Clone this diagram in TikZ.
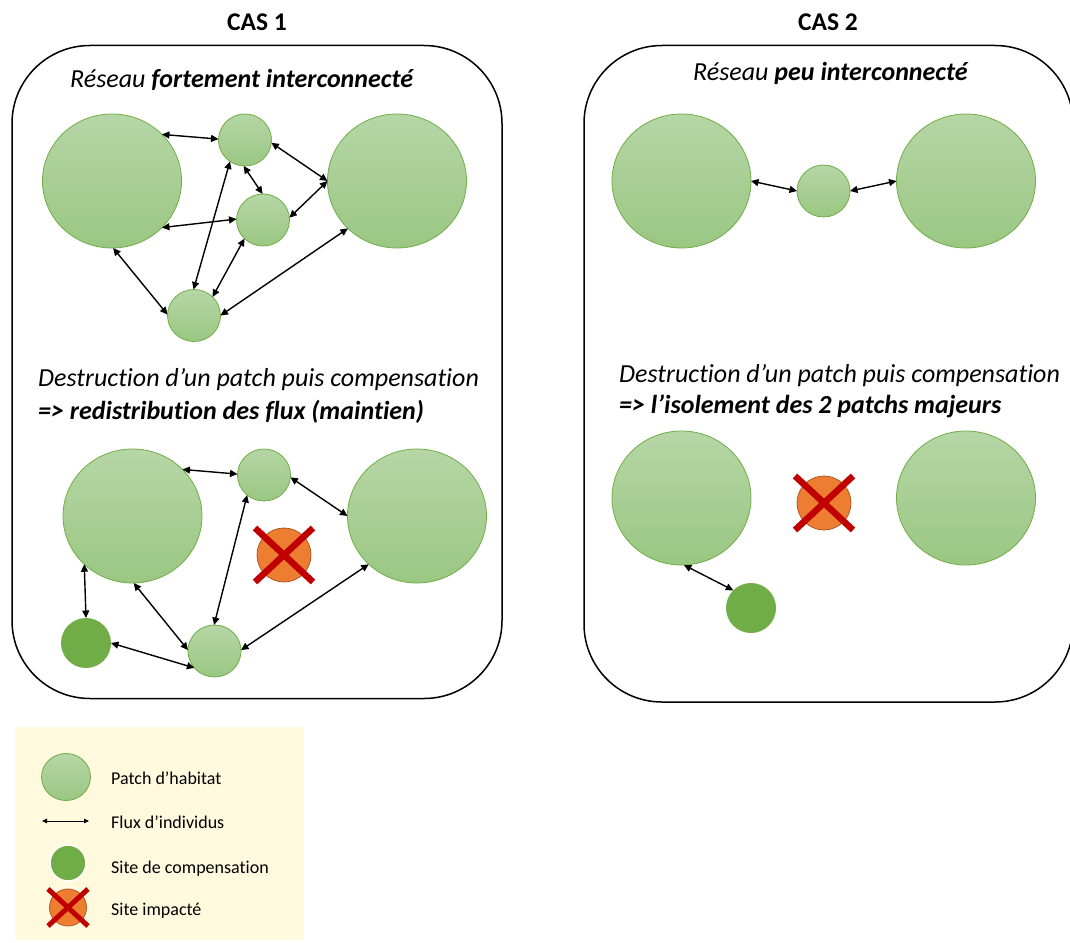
\documentclass[tikz,border=0pt]{standalone}
\usepackage{fontspec}
\setmainfont{Carlito}[Ligatures=NoCommon]
\usetikzlibrary{arrows.meta,shapes.geometric}
\definecolor{pgtop}{RGB}{182,214,166}
\definecolor{pgbot}{RGB}{154,199,130}
\definecolor{pedge}{RGB}{112,173,71}
\definecolor{compgreen}{RGB}{112,173,71}
\definecolor{orng}{RGB}{237,125,49}
\definecolor{orngedge}{RGB}{174,90,33}
\definecolor{xred}{RGB}{192,0,0}
\definecolor{legbg}{RGB}{255,249,222}
\tikzset{
  patch/.style={ellipse, inner sep=0pt, outer sep=0pt, draw=pedge, line width=0.8pt, top color=pgtop, bottom color=pgbot},
  bigpatch/.style={patch, minimum width=139pt, minimum height=134pt},
  smallpatch/.style={patch, minimum width=53pt, minimum height=52pt},
  legpatch/.style={patch, minimum width=49pt, minimum height=47pt},
  compsite/.style={circle, inner sep=0pt, outer sep=0pt, fill=compgreen, minimum size=50pt},
  legcomp/.style={circle, inner sep=0pt, outer sep=0pt, fill=compgreen, draw=white, line width=1.5pt, minimum size=36pt},
  impactsite/.style={circle, inner sep=0pt, outer sep=0pt, fill=orng, draw=orngedge, line width=0.8pt, minimum size=54pt},
  legimpact/.style={impactsite, minimum size=37pt},
  xmark/.style={draw=xred, line width=6.5pt},
  legxmark/.style={draw=xred, line width=5pt},
  flux/.style={line width=1.4pt, {Triangle[length=7.5pt,width=7pt]}-{Triangle[length=7.5pt,width=7pt]}},
  legflux/.style={line width=1pt, {Triangle[length=5pt,width=4.5pt]}-{Triangle[length=5pt,width=4.5pt]}},
  panel/.style={draw=black, line width=1.5pt, rounded corners=78pt},
  casttl/.style={anchor=base, inner sep=0pt, font=\fontsize{25.5}{30}\selectfont\bfseries},
  maintxt/.style={anchor=base west, inner sep=0pt, font=\fontsize{26}{30}\selectfont\itshape},
  legtxt/.style={anchor=base west, inner sep=0pt, font=\fontsize{18}{22}\selectfont}
}
\begin{document}
\begin{tikzpicture}[x=1pt,y=-1pt]
\useasboundingbox (0,0) rectangle (1070,942);
% panels
\draw[panel] (12,45.5) rectangle (502,698.5);
\draw[panel] (584,45.5) rectangle (1073,702);
% titles
\node[casttl] (t1) at (257,30.5) {CAS 1};
\node[casttl] (t2) at (828,30.5) {CAS 2};
% CAS 1 texts
\node[maintxt] (h1) at (70,88) {Réseau \textbf{fortement interconnecté}};
\node[maintxt] (d1a) at (38,386.5) {Destruction d’un patch puis compensation};
\node[maintxt] (d1b) at (38,419) {\textbf{=> redistribution des flux (maintien)}};
% CAS 2 texts
\node[maintxt] (h2) at (693,81) {Réseau \textbf{peu interconnecté}};
\node[maintxt] (d2a) at (619,382) {Destruction d’un patch puis compensation};
\node[maintxt] (d2b) at (619,413) {\textbf{=> l’isolement des 2 patchs majeurs}};
% CAS 1 top network
\node[bigpatch] (L1) at (112,181) {};
\node[bigpatch] (R1) at (397,181) {};
\node[smallpatch] (T1) at (245,140) {};
\node[smallpatch] (M1) at (263,220) {};
\node[smallpatch] (B1) at (194,315.5) {};
\draw[flux] (L1.43) -- (T1.178);
\draw[flux] (T1.-6) -- (R1.180);
\draw[flux] (T1.-93) -- (M1.91);
\draw[flux] (M1.5) -- (R1.180);
\draw[flux] (L1.-43) -- (M1.178);
\draw[flux] (T1.-125) -- (B1.91);
\draw[flux] (M1.-135) -- (B1.45);
\draw[flux] (L1.-89) -- (B1.178);
\draw[flux] (B1.0) -- (R1.-136);
% CAS 1 bottom network
\node[bigpatch] (L2) at (132.5,516) {};
\node[bigpatch] (R2) at (417,516) {};
\node[smallpatch] (T2) at (264,475) {};
\node[smallpatch] (B2) at (214.5,651) {};
\node[compsite] (C2) at (86,643) {};
\node[impactsite] (O2) at (284,555) {};
\draw[xmark] ([shift={(-29,-27)}]O2.center) -- ([shift={(29,27)}]O2.center);
\draw[xmark] ([shift={(-29,27)}]O2.center) -- ([shift={(29,-27)}]O2.center);
\draw[flux] (L2.43) -- (T2.178);
\draw[flux] (T2.-5) -- (R2.180);
\draw[flux] (T2.-130) -- (B2.91);
\draw[flux] (L2.-135) -- (C2.90);
\draw[flux] (L2.-89) -- (B2.178);
\draw[flux] (C2.0) -- (B2.-140);
\draw[flux] (B2.2) -- (R2.-135);
% CAS 2 top network
\node[bigpatch] (L3) at (681.5,181) {};
\node[bigpatch] (R3) at (966,181) {};
\node[smallpatch] (S3) at (823.5,191) {};
\draw[flux] (L3.0) -- (S3.180);
\draw[flux] (S3.0) -- (R3.180);
% CAS 2 bottom network
\node[bigpatch] (L4) at (681.5,498) {};
\node[bigpatch] (R4) at (966,498) {};
\node[compsite] (C4) at (751,608) {};
\node[impactsite] (O4) at (824,503) {};
\draw[xmark] ([shift={(-29,-27)}]O4.center) -- ([shift={(29,27)}]O4.center);
\draw[xmark] ([shift={(-29,27)}]O4.center) -- ([shift={(29,-27)}]O4.center);
\draw[flux] (L4.-88) -- (C4.135);
% legend
\fill[legbg] (15,727) rectangle (304,940);
\node[legpatch] (lp) at (66,777) {};
\coordinate (la1) at (42,821);
\coordinate (la2) at (89,821);
\draw[legflux] (la1) -- (la2);
\node[legcomp] (lc) at (68,863) {};
\node[legimpact] (li) at (68,907.5) {};
\draw[legxmark] ([shift={(-20,-18.5)}]li.center) -- ([shift={(20,18.5)}]li.center);
\draw[legxmark] ([shift={(-20,18.5)}]li.center) -- ([shift={(20,-18.5)}]li.center);
\node[legtxt] (lt1) at (111,784) {Patch d’habitat};
\node[legtxt] (lt2) at (111,828) {Flux d’individus};
\node[legtxt] (lt3) at (111,873) {Site de compensation};
\node[legtxt] (lt4) at (111,915) {Site impacté};
\end{tikzpicture}
\end{document}
